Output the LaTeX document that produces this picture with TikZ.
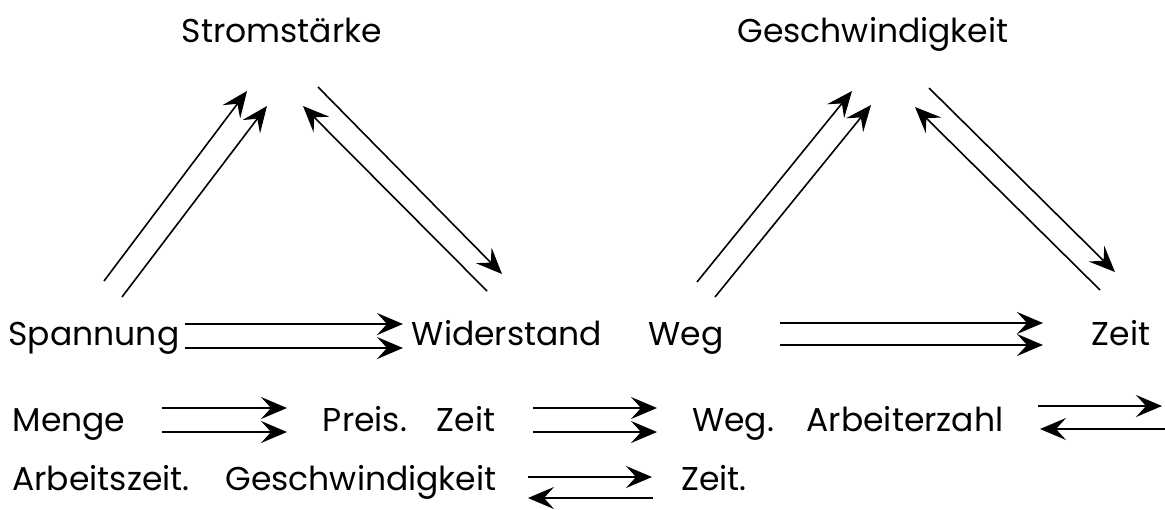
\documentclass[tikz,border=0pt]{standalone}
\usepackage{fontspec}
\setmainfont{Poppins}
\usetikzlibrary{arrows.meta}
\tikzset{
  lbl/.style={anchor=base, inner sep=0pt, font=\fontsize{33}{40}\selectfont},
  arr/.style={line width=1.6pt, -{Stealth[length=26pt,width=22pt,inset=10pt]}},
}
\begin{document}
\begin{tikzpicture}[x=1pt,y=-1pt]
\useasboundingbox (0,0) rectangle (1165,509);
% titles
\node[lbl] (strom) at (282,42) {Stromstärke};
\node[lbl] (gesch) at (873,42) {Geschwindigkeit};
% row 1
\node[lbl] (spann) at (94,345) {Spannung};
\node[lbl] (wider) at (507,345) {Widerstand};
\node[lbl] (weg) at (686,345) {Weg};
\node[lbl] (zeit) at (1121,345) {Zeit};
% row 2
\node[lbl] (menge) at (69,431) {Menge};
\node[lbl] (preis) at (365,431) {Preis.};
\node[lbl] (zeitb) at (466,431) {Zeit};
\node[lbl] (wegb) at (733,431) {Weg.};
\node[lbl] (arbz) at (905,431) {Arbeiterzahl};
% row 3
\node[lbl] (arbzeit) at (101,490) {Arbeitszeit.};
\node[lbl] (geschb) at (361,490) {Geschwindigkeit};
\node[lbl] (zeitc) at (714,490) {Zeit.};
% endpoint coordinates
\coordinate (l1a) at (104,281); \coordinate (l1b) at (247,91);
\coordinate (l2a) at (122,297); \coordinate (l2b) at (267,106);
\coordinate (l3a) at (487,291); \coordinate (l3b) at (303,106);
\coordinate (l4a) at (318,87);  \coordinate (l4b) at (502,274);
\coordinate (r1a) at (697,282); \coordinate (r1b) at (852,91);
\coordinate (r2a) at (715,297); \coordinate (r2b) at (871,105);
\coordinate (r3a) at (1100,290); \coordinate (r3b) at (915,107);
\coordinate (r4a) at (929,88);  \coordinate (r4b) at (1115,272);
\coordinate (h1a) at (185,324); \coordinate (h1b) at (403,324);
\coordinate (h2a) at (185,348); \coordinate (h2b) at (403,348);
\coordinate (h3a) at (780,323); \coordinate (h3b) at (1043,323);
\coordinate (h4a) at (780,345); \coordinate (h4b) at (1043,345);
\coordinate (m1a) at (162,408); \coordinate (m1b) at (287,408);
\coordinate (m2a) at (162,432); \coordinate (m2b) at (287,432);
\coordinate (z1a) at (533,408); \coordinate (z1b) at (657,408);
\coordinate (z2a) at (533,432); \coordinate (z2b) at (657,432);
\coordinate (a1a) at (1038,406); \coordinate (a1b) at (1162,406);
\coordinate (a2a) at (1165,429); \coordinate (a2b) at (1040,429);
\coordinate (g1a) at (528,477); \coordinate (g1b) at (652,477);
\coordinate (g2a) at (653,498); \coordinate (g2b) at (528,498);
% triangle arrows
\draw[arr] (l1a) -- (l1b);
\draw[arr] (l2a) -- (l2b);
\draw[arr] (l3a) -- (l3b);
\draw[arr] (l4a) -- (l4b);
\draw[arr] (r1a) -- (r1b);
\draw[arr] (r2a) -- (r2b);
\draw[arr] (r3a) -- (r3b);
\draw[arr] (r4a) -- (r4b);
% horizontal arrows
\draw[arr] (h1a) -- (h1b);
\draw[arr] (h2a) -- (h2b);
\draw[arr] (h3a) -- (h3b);
\draw[arr] (h4a) -- (h4b);
\draw[arr] (m1a) -- (m1b);
\draw[arr] (m2a) -- (m2b);
\draw[arr] (z1a) -- (z1b);
\draw[arr] (z2a) -- (z2b);
\draw[arr] (a1a) -- (a1b);
\draw[arr] (a2a) -- (a2b);
\draw[arr] (g1a) -- (g1b);
\draw[arr] (g2a) -- (g2b);
\end{tikzpicture}
\end{document}
